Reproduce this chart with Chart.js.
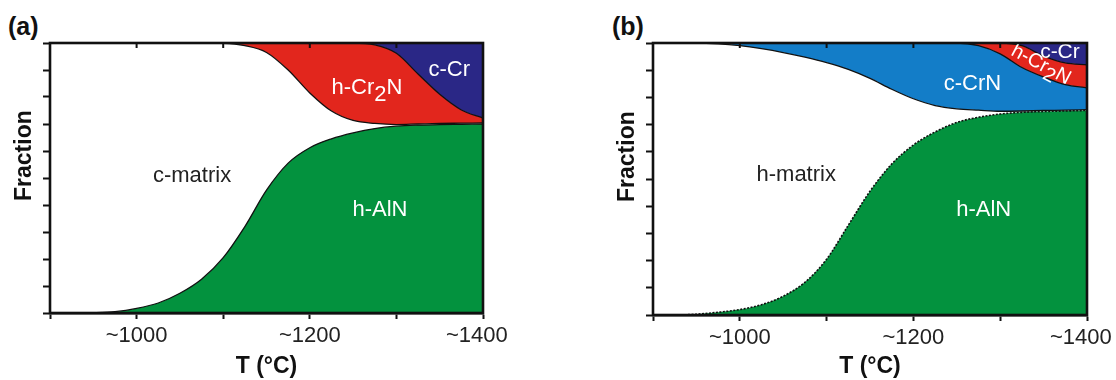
<!DOCTYPE html>
<html><head><meta charset="utf-8">
<script src="https://cdn.jsdelivr.net/npm/chart.js@4.4.1/dist/chart.umd.min.js"></script>
<style>
html,body{margin:0;padding:0;background:#fff;width:1116px;height:380px;overflow:hidden}
canvas{position:absolute;top:0}
#ca{left:0}
#cb{left:603px}
.pl{position:absolute;font:bold 25px "Liberation Sans",Arial,sans-serif;color:#111;top:12px;line-height:28px}
</style></head><body>
<div class="pl" style="left:8px">(a)</div>
<div class="pl" style="left:612px">(b)</div>
<canvas id="ca" width="560" height="380"></canvas>
<canvas id="cb" width="513" height="380"></canvas>
<script>
// ---- data (temperature in °C, phase fractions stacked from bottom) ----
const temperatures = [900,925,950,975,1000,1025,1050,1075,1100,1125,1150,1175,1200,1225,1250,1275,1300,1325,1350,1375,1400];
const xTickValues = [1000,1200,1400];
const xTickText = ['~1000','~1200','~1400'];

// Panel (a)
const aAlN    = [0,0,0.001,0.005,0.017,0.037,0.073,0.125,0.205,0.32,0.455,0.555,0.612,0.645,0.667,0.683,0.692,0.696,0.698,0.699,0.700];
const aMatrix = [1,1,0.999,0.995,0.983,0.963,0.927,0.875,0.794,0.67,0.51,0.345,0.203,0.103,0.046,0.019,0.006,0.004,0.004,0.004,0.004];
const aCr2N   = [0,0,0,0,0,0,0,0,0.001,0.01,0.035,0.10,0.185,0.252,0.287,0.291,0.264,0.185,0.108,0.049,0.018];
const aCr     = [0,0,0,0,0,0,0,0,0,0,0,0,0,0,0,0.007,0.038,0.115,0.19,0.248,0.278];

// Panel (b)
const bAlN    = [0,0,0.003,0.01,0.02,0.038,0.069,0.12,0.205,0.33,0.455,0.555,0.625,0.673,0.708,0.727,0.739,0.745,0.748,0.75,0.752];
const bMatrix = [1,1,0.997,0.987,0.97,0.941,0.896,0.828,0.723,0.573,0.415,0.275,0.17,0.097,0.05,0.026,0.01,0.005,0.004,0.003,0.003];
const bCrN    = [0,0,0,0.003,0.01,0.021,0.035,0.052,0.072,0.097,0.13,0.17,0.205,0.23,0.242,0.237,0.211,0.16,0.123,0.094,0.08];
const bCr2N   = [0,0,0,0,0,0,0,0,0,0,0,0,0,0,0,0.01,0.04,0.08,0.077,0.08,0.085];
const bCr     = [0,0,0,0,0,0,0,0,0,0,0,0,0,0,0,0,0,0.01,0.048,0.073,0.08];

// ---- styling ----
const FAM = '"Liberation Sans", Arial, sans-serif';
const C = {green:'#03923e', red:'#e2261d', navy:'#2a2786', blue:'#137dc8', white:'#ffffff', line:'#111111'};

function ds(label, data, color, fill, dash){
  return {label, data, backgroundColor: color, borderColor: C.line, borderWidth: dash?1.6:1.3,
    borderDash: dash || [], fill, pointRadius: 0, cubicInterpolationMode: 'monotone'};
}

const labelPlugin = {
  id: 'regionLabels',
  afterDatasetsDraw(chart, args, opts){
    const {ctx, chartArea: ca, scales: {x, y}} = chart;
    ctx.save();
    ctx.beginPath(); ctx.rect(ca.left, ca.top, ca.right - ca.left, ca.bottom - ca.top); ctx.clip();
    for (const L of opts.items || []) {
      const px = x.getPixelForValue(L.t), py = y.getPixelForValue(L.f);
      ctx.save();
      ctx.translate(px, py);
      ctx.rotate((L.rot || 0) * Math.PI / 180);
      ctx.font = `${L.size || 22}px ${FAM}`;
      ctx.fillStyle = L.color;
      ctx.textBaseline = 'middle';
      ctx.textAlign = 'left';
      const parts = L.parts || [[L.text, 0]];
      const total = parts.reduce((w, p) => w + ctx.measureText(p[0]).width, 0);
      let cx = L.align === 'left' ? 0 : -total / 2;
      for (const [s, dy] of parts) { ctx.fillText(s, cx, dy); cx += ctx.measureText(s).width; }
      ctx.restore();
    }
    ctx.restore();
    ctx.save();
    ctx.strokeStyle = C.line; ctx.lineWidth = 2.6;
    ctx.strokeRect(ca.left, ca.top, ca.right - ca.left, ca.bottom - ca.top);
    // small inward ticks on top axis, matching the bottom ticks
    ctx.lineWidth = 2;
    for (let v = 1000; v < 1400; v += 100) {
      const px = x.getPixelForValue(v);
      ctx.beginPath(); ctx.moveTo(px, ca.top); ctx.lineTo(px, ca.top + 5); ctx.stroke();
    }
    ctx.restore();
  }
};

function makeChart(id, datasets, pad, xHeight, items){
  return new Chart(document.getElementById(id), {
    type: 'line',
    data: {labels: temperatures, datasets},
    options: {
      responsive: false, animation: false, devicePixelRatio: 1,
      layout: {padding: pad},
      plugins: {legend: {display: false}, tooltip: {enabled: false}, regionLabels: {items}},
      scales: {
        x: {type: 'linear', min: 900, max: 1400,
          ticks: {stepSize: 100, autoSkip: false, maxRotation: 0, padding: 4, color: '#222',
            font: {size: 22, family: FAM},
            callback: v => { const i = xTickValues.indexOf(v); return i < 0 ? '' : (v === 1400 ? xTickText[i] + '  ' : xTickText[i]); }},
          grid: {drawOnChartArea: false, drawTicks: true, tickLength: 6, tickWidth: 2, color: C.line},
          border: {display: true, width: 2.6, color: C.line},
          title: {display: true, text: 'T (°C)', color: '#111', font: {size: 23, weight: 'bold', family: FAM}, padding: {top: 0, bottom: 0}},
          afterFit(s){ s.height = xHeight; s.paddingLeft = 0; s.paddingRight = 0; }
        },
        y: {stacked: true, min: 0, max: 1,
          ticks: {stepSize: 0.1, callback: () => '', padding: 0},
          grid: {drawOnChartArea: false, drawTicks: true, tickLength: 7, tickWidth: 2, color: C.line},
          border: {display: true, width: 2.6, color: C.line},
          title: {display: true, text: '       Fraction', color: '#111', font: {size: 23, weight: 'bold', family: FAM}, padding: {top: 11, bottom: 0}},
          afterFit(s){ s.width = 50; s.paddingTop = 0; s.paddingBottom = 0; }
        }
      }
    },
    plugins: [labelPlugin]
  });
}

makeChart('ca', [
  ds('h-AlN', aAlN, C.green, 'origin'),
  ds('c-matrix', aMatrix, C.white, '-1'),
  ds('h-Cr2N', aCr2N, C.red, '-1'),
  ds('c-Cr', aCr, C.navy, '-1')
], {top: 43, right: 77, bottom: 0, left: 0}, 67, [
  {text: 'c-matrix', t: 1064, f: 0.507, color: '#222'},
  {text: 'h-AlN', t: 1281, f: 0.381, color: '#fff'},
  {parts: [['h-Cr', 0], ['2', 7], ['N', 0]], t: 1266, f: 0.835, color: '#fff'},
  {text: 'c-Cr', t: 1361, f: 0.90, color: '#fff'}
]);

makeChart('cb', [
  ds('h-AlN', bAlN, C.green, 'origin', [2, 1.5]),
  ds('h-matrix', bMatrix, C.white, '-1'),
  ds('c-CrN', bCrN, C.blue, '-1'),
  ds('h-Cr2N', bCr2N, C.red, '-1'),
  ds('c-Cr', bCr, C.navy, '-1')
], {top: 43, right: 29, bottom: 0, left: 0}, 65, [
  {text: 'h-matrix', t: 1065, f: 0.515, color: '#222'},
  {text: 'h-AlN', t: 1281, f: 0.386, color: '#fff'},
  {text: 'c-CrN', t: 1268, f: 0.851, color: '#fff'},
  {parts: [['h-Cr', 0], ['2', 6], ['N', 0]], t: 1347, f: 0.92, rot: 28, size: 20, color: '#fff'},
  {text: 'c-Cr', t: 1346, f: 0.968, align: 'left', size: 21, color: '#fff'}
]);
</script>
</body></html>
